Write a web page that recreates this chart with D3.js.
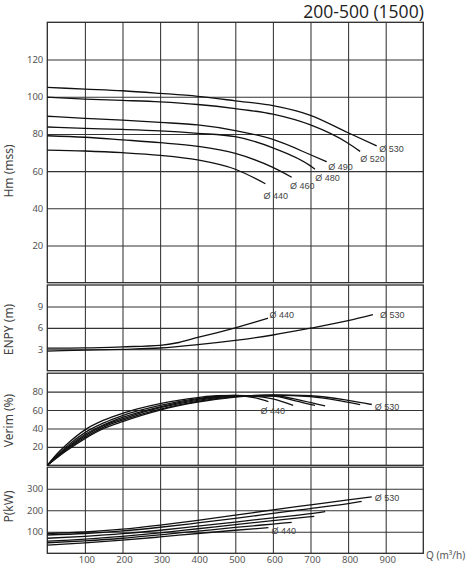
<!DOCTYPE html>
<html>
<head>
<meta charset="utf-8">
<script src="https://cdn.jsdelivr.net/npm/d3@7"></script>
<style>
  html, body { margin: 0; padding: 0; background: #fff; }
  svg { display: block; }
</style>
</head>
<body>
<svg id="chart" width="475" height="580"></svg>
<script>
// ---------------- DATA ----------------
const title = "200-500 (1500)";
const xTicks = [100, 200, 300, 400, 500, 600, 700, 800, 900];
const headTicks = [20, 40, 60, 80, 100, 120];
const npshTicks = [3, 6, 9];
const effTicks = [20, 40, 60, 80];
const powerTicks = [100, 200, 300];
const diameters = [440, 460, 480, 490, 520, 530];

// Head H (m) vs Q (m³/h)
const head440 = [[0,71.3],[100,70.8],[200,69.9],[300,68.5],[400,66],[500,61],[580,53.2]];
const head460 = [[0,79],[100,78.2],[200,76.8],[300,75.3],[400,73.3],[500,69.5],[600,62],[650,56.7]];
const head480 = [[0,83.7],[100,83],[200,82.4],[300,81.6],[400,80.3],[500,78.5],[600,72.5],[700,62.8],[712,61]];
const head490 = [[0,89.5],[100,88.4],[200,87.4],[300,86.2],[400,84.8],[500,81.8],[600,77],[700,68.8],[743,65]];
const head520 = [[0,99.7],[100,98.7],[200,98],[300,97.2],[400,95.8],[500,93.6],[600,90.6],[700,84.8],[800,75],[832,70.6]];
const head530 = [[0,105],[100,104.1],[200,103.2],[300,101.8],[400,100.2],[500,97.8],[600,95.2],[700,90],[800,80.6],[876,73.6]];

// NPSH (m)
const npsh440 = [[0,3.15],[100,3.2],[200,3.35],[300,3.55],[350,3.95],[400,4.65],[450,5.3],[500,6.0],[550,6.75],[587,7.35]];
const npsh530 = [[0,2.75],[100,2.88],[200,3.0],[300,3.18],[400,3.65],[500,4.25],[600,5.0],[700,5.95],[800,7.0],[866,7.85]];

// Efficiency (%)
const eff440 = [[0,0],[25,12],[50,22],[100,38.5],[150,49],[200,56.5],[300,67],[400,73.5],[450,75.5],[500,75.8],[550,73.5],[588,69.2]];
const eff460 = [[0,0],[25,10.5],[50,20],[100,35.5],[150,46],[200,54],[300,65],[400,72.5],[500,75.8],[550,75.2],[600,72],[654,65]];
const eff480 = [[0,0],[25,9.5],[50,18.5],[100,33.5],[150,44],[200,52],[300,63.5],[400,71.5],[500,75.5],[600,75],[660,70],[712,65]];
const eff490 = [[0,0],[25,9],[50,17.5],[100,32],[150,43],[200,50.5],[300,62.5],[400,70.5],[500,75],[600,75.5],[680,70],[739,64.5]];
const eff520 = [[0,0],[25,8.5],[50,16.5],[100,30.5],[150,41.5],[200,49],[300,61],[400,69.5],[500,74.5],[600,76.3],[700,74.5],[780,70],[832,66]];
const eff530 = [[0,0],[25,8],[50,15.5],[100,29],[150,40],[200,47.5],[300,60],[400,68.5],[500,74],[600,76.5],[700,75.5],[800,70.5],[863,66]];

// Power P (kW)
const pow440 = [[0,38],[100,48],[200,61],[300,76],[400,92],[500,107],[588,119]];
const pow460 = [[0,49],[100,58],[200,70],[300,86],[400,103],[500,120],[600,136],[650,144]];
const pow480 = [[0,57],[100,66],[200,79],[300,95],[400,114],[500,133],[600,152],[710,172]];
const pow490 = [[0,70],[100,79],[200,91],[300,107],[400,126],[500,145],[600,165],[700,184],[739,194]];
const pow520 = [[0,85],[100,92],[200,104],[300,121],[400,141],[500,162],[600,185],[700,208],[800,231],[836,241]];
const pow530 = [[0,92],[100,99],[200,112],[300,131],[400,153],[500,177],[600,202],[700,225],[800,248],[863,262]];

// ---------------- CHART ----------------
const svg = d3.select("#chart");
const FONT = "'Noto Sans', 'DejaVu Sans', sans-serif";
const LFONT = "'Liberation Sans', Arial, sans-serif";
const x = d3.scaleLinear().domain([0, 1000]).range([47.3, 423.3]);
const left = x.range()[0], right = x.range()[1], width = right - left;

// labels: [series index, diameter index, dx, dy]
const panels = [
  { name: "Hm (mss)", titleY: 171, domain: [0, 140], range: [282.7, 22.3], ticks: headTicks,
    series: [head440, head460, head480, head490, head520, head530],
    labels: [[0,0,-2,15.3],[1,1,-1.7,11.8],[2,2,0.3,11.3],[3,3,1.5,8.3],[4,4,0,10.2],[5,5,2.5,6]] },
  { name: "ENPY (m)", titleY: 329.5, domain: [0, 12], range: [370.7, 285], ticks: npshTicks,
    series: [npsh440, npsh530],
    labels: [[0,0,1.5,0],[1,5,7,3.5]] },
  { name: "Verim (%)", titleY: 420.5, domain: [0, 100], range: [465.3, 373.2], ticks: effTicks,
    series: [eff440, eff460, eff480, eff490, eff520, eff530],
    labels: [[0,0,-8,12],[5,5,3,5]] },
  { name: "P(kW)", titleY: 506.5, domain: [0, 400], range: [553.3, 467.2], ticks: powerTicks,
    series: [pow440, pow460, pow480, pow490, pow520, pow530],
    labels: [[0,0,3,6],[5,5,3,4]] }
];

// Title
svg.append("text")
  .attr("x", right + 0.5).attr("y", 18)
  .attr("text-anchor", "end")
  .attr("font-family", "'Open Sans', sans-serif")
  .attr("font-size", 17.5)
  .attr("fill", "#222")
  .text(title);

panels.forEach((p, pi) => {
  const y = d3.scaleLinear().domain(p.domain).range(p.range);
  const top = p.range[1], bottom = p.range[0], h = bottom - top;
  const g = svg.append("g");

  // horizontal grid + y tick labels
  const ya = g.append("g").attr("transform", `translate(${left},0)`)
    .call(d3.axisLeft(y).tickValues(p.ticks).tickSize(-width).tickPadding(4).tickFormat(d3.format("d")));
  ya.select(".domain").remove();
  ya.selectAll("line").attr("stroke", "#333").attr("stroke-width", 1.05);
  ya.selectAll("text").attr("font-family", FONT).attr("font-size", 9.5).attr("fill", "#555");

  // vertical grid (+ x tick labels on last panel)
  const isLast = pi === panels.length - 1;
  const xa = g.append("g").attr("transform", `translate(0,${bottom})`)
    .call(d3.axisBottom(x).tickValues(xTicks).tickSize(-h).tickPadding(3)
      .tickFormat(isLast ? d3.format("d") : () => ""));
  xa.select(".domain").remove();
  xa.selectAll("line").attr("stroke", "#333").attr("stroke-width", 1.05);
  xa.selectAll("text").attr("font-family", FONT).attr("font-size", 9.5).attr("fill", "#555").attr("dx", 1.5);

  // panel border
  g.append("rect").attr("x", left).attr("y", top).attr("width", width).attr("height", h)
    .attr("fill", "none").attr("stroke", "#2a2a2a").attr("stroke-width", 1.3);

  // y axis title
  g.append("text")
    .attr("transform", `translate(12.5,${p.titleY}) rotate(-90)`)
    .attr("text-anchor", "middle")
    .attr("font-family", FONT).attr("font-size", 12).attr("fill", "#444")
    .text(p.name);

  // curves
  const line = d3.line().x(d => x(d[0])).y(d => y(d[1])).curve(d3.curveMonotoneX);
  g.append("g").selectAll("path").data(p.series).join("path")
    .attr("d", line)
    .attr("fill", "none").attr("stroke", "#111").attr("stroke-width", 1.3)
    .attr("stroke-linejoin", "round");

  // curve labels
  p.labels.forEach(([si, di, dx, dy]) => {
    const s = p.series[si];
    const end = s[s.length - 1];
    g.append("text")
      .attr("x", x(end[0]) + dx).attr("y", y(end[1]) + dy)
      .attr("font-family", LFONT).attr("font-size", 9).attr("fill", "#444")
      .text("Ø " + diameters[di]);
  });
});

// Q axis title
svg.append("text")
  .attr("x", 426).attr("y", 558.5)
  .attr("font-family", FONT).attr("font-size", 10).attr("fill", "#555")
  .text("Q (m³/h)");
</script>
</body>
</html>
